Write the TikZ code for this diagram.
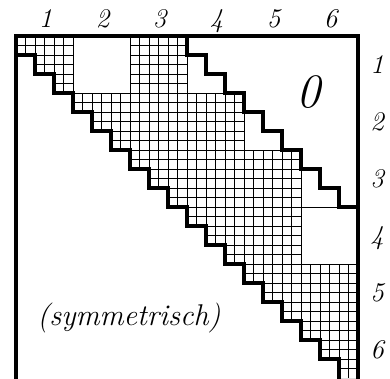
\documentclass[tikz,border=0pt]{standalone}
\begin{document}
\begin{tikzpicture}[x=1pt,y=-1pt,
  thickline/.style={line width=3.2pt,line join=miter,line cap=rect},
  gridline/.style={line width=0.6pt,black},
  lbl/.style={font=\fontsize{27}{30}\selectfont\itshape,inner sep=0pt,anchor=base}]
\useasboundingbox (0,0) rectangle (390,378);
\begin{scope}[shift={(16,36)},x=19pt,y=-19pt]
  % profile (skyline) region with fine grid
  \begin{scope}
    \clip (0,0) -- (3,0) -- (3,3) -- (6,3) -- (6,0) -- (9,0) -- (9,3) -- (12,3) -- (12,6) -- (15,6) -- (15,12) -- (18,12) -- (18,18)
      -- (17,18) -- (17,17) -- (16,17) -- (16,16) -- (15,16) -- (15,15) -- (14,15) -- (14,14) -- (13,14) -- (13,13) -- (12,13) -- (12,12)
      -- (11,12) -- (11,11) -- (10,11) -- (10,10) -- (9,10) -- (9,9) -- (8,9) -- (8,8) -- (7,8) -- (7,7) -- (6,7) -- (6,6)
      -- (5,6) -- (5,5) -- (4,5) -- (4,4) -- (3,4) -- (3,3) -- (2,3) -- (2,2) -- (1,2) -- (1,1) -- (0,1) -- cycle;
    \foreach \k in {0,...,36} {
      \draw[gridline] (\k/2,0) -- (\k/2,18);
      \draw[gridline] (0,\k/2) -- (18,\k/2);
    }
  \end{scope}
  \draw[gridline] (0,0) -- (3,0) -- (3,3) -- (6,3) -- (6,0) -- (9,0) -- (9,3) -- (12,3) -- (12,6) -- (15,6) -- (15,12) -- (18,12);
  % thin line in block column 6
  \draw[gridline] (15,9) -- (17,9);
  % frame
  \draw[thickline] (0,18) -- (0,0) -- (18,0) -- (18,18);
  % diagonal staircase
  \draw[thickline] (0,1) -- (1,1) -- (1,2) -- (2,2) -- (2,3) -- (3,3) -- (3,4) -- (4,4) -- (4,5) -- (5,5) -- (5,6) -- (6,6)
    -- (6,7) -- (7,7) -- (7,8) -- (8,8) -- (8,9) -- (9,9) -- (9,10) -- (10,10) -- (10,11) -- (11,11) -- (11,12) -- (12,12)
    -- (12,13) -- (13,13) -- (13,14) -- (14,14) -- (14,15) -- (15,15) -- (15,16) -- (16,16) -- (16,17) -- (17,17) -- (17,18);
  % band boundary
  \draw[thickline] (9,0) -- (9,1) -- (10,1) -- (10,2) -- (11,2) -- (11,3) -- (12,3) -- (12,4) -- (13,4) -- (13,5) -- (14,5)
    -- (14,6) -- (15,6) -- (15,7) -- (16,7) -- (16,8) -- (17,8) -- (17,9) -- (18,9);
\end{scope}
% column and row labels
\foreach \n in {1,...,6} {
  \node[lbl] (c\n) at ({16+57*(\n-0.5)+1},27) {\n};
  \node[lbl] (r\n) at (377,{36+57*(\n-0.5)+8.5}) {\n};
}
\node[font=\fontsize{48}{50}\selectfont\itshape,inner sep=0pt] (zero) at (308,92) {0};
\node[font=\fontsize{30}{33}\selectfont\itshape,inner sep=0pt] (sym) at (129,318) {(symmetrisch)};
\end{tikzpicture}
\end{document}
